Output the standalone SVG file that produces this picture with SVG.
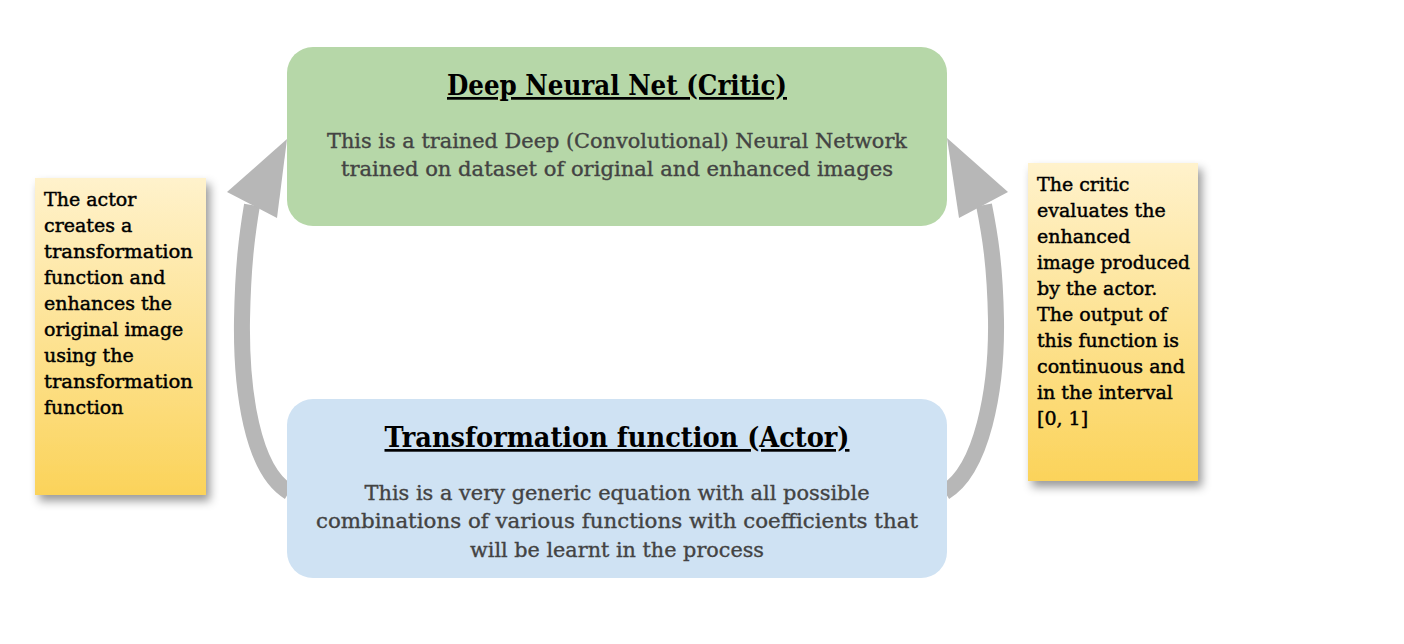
<svg xmlns="http://www.w3.org/2000/svg" width="1404" height="644" viewBox="0 0 1404 644">
<defs>
<linearGradient id="note" x1="0" y1="0" x2="0" y2="1">
<stop offset="0" stop-color="#fff2cc"/>
<stop offset="1" stop-color="#fbd35a"/>
</linearGradient>
<filter id="sh" x="-20%" y="-10%" width="150%" height="130%">
<feDropShadow dx="4" dy="6" stdDeviation="5" flood-color="#000" flood-opacity="0.4"/>
</filter>
</defs>
<style>
.title{font-family:"DejaVu Serif","Liberation Serif",serif;font-weight:bold;font-size:27px;fill:#000;text-decoration:underline;text-anchor:middle}
.body{font-family:"DejaVu Serif","Liberation Serif",serif;font-size:20px;fill:#434343;stroke:#434343;stroke-width:0.35;text-anchor:middle}
.note{font-family:"DejaVu Serif","Liberation Serif",serif;font-size:19px;fill:#000;stroke:#000;stroke-width:0.45}
.arrow{fill:none;stroke:#b7b7b7;stroke-width:16}
.head{fill:#b7b7b7}
</style>
<rect width="1404" height="644" fill="#fff"/>
<g id="connectors">
<path class="arrow" d="M289,492 C252,470 241,390 242,320 C243,265 247,235 252,205"/>
<polygon class="head" points="287,139 227,192 277,218"/>
<path class="arrow" d="M945,492 C982,470 997,390 996,320 C995,265 990,235 984,205"/>
<polygon class="head" points="947,138 1008,192 959,218"/>
</g>
<g id="critic">
<rect x="287" y="47" width="660" height="179" rx="26" fill="#b6d7a8"/>
<text class="title" x="617" y="95" textLength="340" lengthAdjust="spacingAndGlyphs">Deep Neural Net (Critic)</text>
<text class="body" x="617" y="148" textLength="580" lengthAdjust="spacingAndGlyphs">This is a trained Deep (Convolutional) Neural Network</text>
<text class="body" x="617" y="176" textLength="552" lengthAdjust="spacingAndGlyphs">trained on dataset of original and enhanced images</text>
</g>
<g id="actor">
<rect x="287" y="399" width="660" height="179" rx="26" fill="#cfe2f3"/>
<text class="title" x="617" y="447" textLength="465" lengthAdjust="spacingAndGlyphs">Transformation function (Actor)</text>
<text class="body" x="617" y="500" textLength="505" lengthAdjust="spacingAndGlyphs">This is a very generic equation with all possible</text>
<text class="body" x="617" y="528" textLength="602" lengthAdjust="spacingAndGlyphs">combinations of various functions with coefficients that</text>
<text class="body" x="617" y="557" textLength="294" lengthAdjust="spacingAndGlyphs">will be learnt in the process</text>
</g>
<g id="note-actor">
<rect x="35" y="178" width="171" height="317" fill="url(#note)" filter="url(#sh)"/>
<text class="note">
<tspan x="44" y="206">The actor</tspan>
<tspan x="44" y="232">creates a</tspan>
<tspan x="44" y="258" textLength="149" lengthAdjust="spacingAndGlyphs">transformation</tspan>
<tspan x="44" y="284">function and</tspan>
<tspan x="44" y="310">enhances the</tspan>
<tspan x="44" y="336">original image</tspan>
<tspan x="44" y="362">using the</tspan>
<tspan x="44" y="388" textLength="149" lengthAdjust="spacingAndGlyphs">transformation</tspan>
<tspan x="44" y="414">function</tspan>
</text>
</g>
<g id="note-critic">
<rect x="1028" y="163" width="170" height="318" fill="url(#note)" filter="url(#sh)"/>
<text class="note">
<tspan x="1037" y="191">The critic</tspan>
<tspan x="1037" y="217">evaluates the</tspan>
<tspan x="1037" y="243">enhanced</tspan>
<tspan x="1037" y="269" textLength="153" lengthAdjust="spacingAndGlyphs">image produced</tspan>
<tspan x="1037" y="295">by the actor.</tspan>
<tspan x="1037" y="321">The output of</tspan>
<tspan x="1037" y="347" textLength="142" lengthAdjust="spacingAndGlyphs">this function is</tspan>
<tspan x="1037" y="373" textLength="148" lengthAdjust="spacingAndGlyphs">continuous and</tspan>
<tspan x="1037" y="399">in the interval</tspan>
<tspan x="1037" y="425">[0, 1]</tspan>
</text>
</g>
</svg>
